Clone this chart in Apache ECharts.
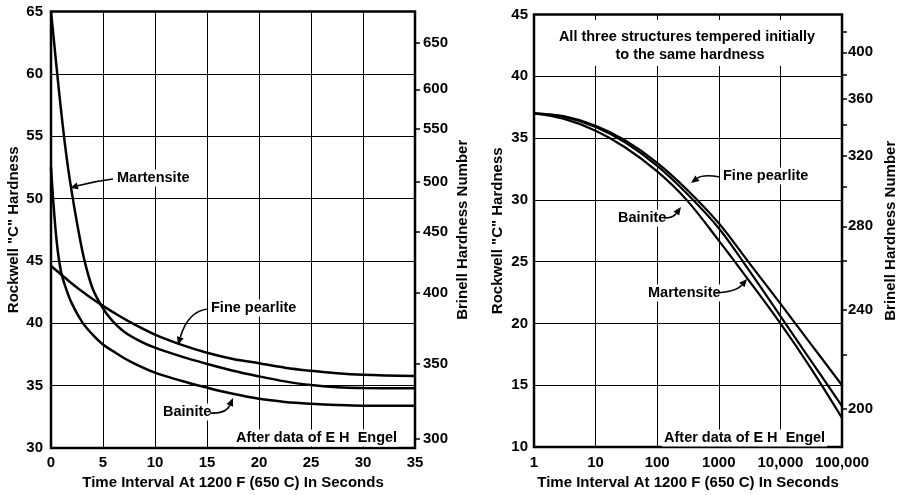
<!DOCTYPE html>
<html><head><meta charset="utf-8">
<script src="https://cdn.jsdelivr.net/npm/echarts@6/dist/echarts.min.js"></script>
<style>html,body{margin:0;padding:0;background:#fff}#c{width:900px;height:495px}</style>
</head><body><div id="c"></div>
<script>
// ---------- Left chart data (time in seconds, Rockwell C) ----------
const martT  = [0, 0.3, 0.6, 0.9, 1.25, 1.65, 2.1, 2.6, 3.2, 4.0, 5.0, 5.8, 7.0, 8.5, 10, 12.5, 15, 17.5, 20, 22.5, 25, 27.5, 30, 35];
const martR  = [65, 62.5, 60, 57.6, 55, 52.4, 50, 47.6, 45.1, 42.8, 41.2, 40.3, 39.35, 38.6, 38.05, 37.35, 36.75, 36.2, 35.75, 35.35, 35.05, 34.88, 34.82, 34.8];
const pearlT = [0, 1, 2, 3, 4, 5, 6, 7.5, 10, 12.5, 15, 17.5, 20, 22.5, 25, 27.5, 30, 35];
const pearlR = [44.6, 43.9, 43.2, 42.55, 41.95, 41.4, 40.88, 40.15, 39.1, 38.3, 37.65, 37.15, 36.8, 36.45, 36.2, 36.0, 35.88, 35.78];
const bainT  = [0, 0.2, 0.45, 0.7, 1.0, 1.4, 2.0, 3.0, 4.0, 5.0, 6.0, 7.5, 10, 12.5, 15, 17.5, 20, 22.5, 25, 27.5, 30, 35];
const bainR  = [52.5, 50, 47.4, 45.5, 44.0, 42.9, 41.6, 40.1, 39.1, 38.3, 37.75, 37.0, 36.05, 35.4, 34.85, 34.35, 33.95, 33.7, 33.55, 33.45, 33.4, 33.4];
// Brinell scale (left chart): labels and their Rockwell-C positions
const brinellL    = [650, 600, 550, 500, 450, 400, 350, 300];
const brinellLpos = [62.47, 58.76, 55.57, 51.36, 47.35, 42.45, 36.74, 30.78];

// ---------- Right chart data (log time, Rockwell C) ----------
const logTimes  = [1, 3, 10, 30, 100, 300, 1000, 3000, 10000, 30000, 100000];
const pearlLogR = [37.0, 36.77, 36.0, 34.82, 33.0, 30.86, 28.1, 25.0, 21.6, 18.45, 15.0];
const martLogR  = [37.0, 36.73, 35.9, 34.65, 32.75, 30.53, 27.7, 24.39, 20.6, 17.12, 13.3];
const bainLogR  = [37.0, 36.57, 35.6, 34.26, 32.3, 30.0, 26.7, 23.55, 20.0, 16.5, 12.35];
const brinellR      = [400, 360, 320, 280, 240, 200];
const brinellRpos   = [41.94, 38.16, 33.58, 27.86, 21.11, 13.06];
const brinellRminor = [43.63, 40.09, 36.07, 31.08, 25.05, 17.49];

const F = 'Liberation Sans, Arial, sans-serif';
const pairs = (a, b) => a.map((v, i) => [v, b[i]]);
const brinFmt = (pos, labs) => v => {
  for (let i = 0; i < pos.length; i++) if (Math.abs(pos[i] - v) < 1e-6) return String(labs[i]);
  return '';
};
const tickLabel = {color: '#000', fontFamily: F, fontWeight: 'bold', fontSize: 15};
const nameStyle = {color: '#000', fontFamily: F, fontWeight: 'bold', fontSize: 15};
const gridLine = {show: true, lineStyle: {color: '#000', width: 1}};

function lineSeries(data, xi, yi, w) {
  return {type: 'line', xAxisIndex: xi, yAxisIndex: yi, data: data, showSymbol: false,
    smooth: 0.35, lineStyle: {color: '#000', width: w}, silent: true, z: 2};
}

// annotation helpers
const AF = 'bold 14.5px ' + F;
function label(text, x, y, align) {
  return {type: 'text', x: x, y: y, z: 10,
    style: {text: text, font: AF, fill: '#000', align: align || 'left', verticalAlign: 'middle',
      backgroundColor: '#fff', padding: [1, 2]}};
}
function arrow(sx, sy, cx, cy, tx, ty) {
  const dx = tx - cx, dy = ty - cy, L = Math.hypot(dx, dy), ux = dx / L, uy = dy / L;
  const len = 8, hw = 3.5;
  const bx = tx - ux * len, by = ty - uy * len;
  return [
    {type: 'bezierCurve', z: 11, shape: {x1: sx, y1: sy, cpx1: cx, cpy1: cy, x2: bx, y2: by},
      style: {stroke: '#000', lineWidth: 1.6, fill: null}},
    {type: 'polygon', z: 11, shape: {points: [[tx, ty], [bx - uy * hw, by + ux * hw], [bx + uy * hw, by - ux * hw]]},
      style: {fill: '#000'}}
  ];
}

const graphics = [
  {type: 'rect', z: 3, shape: {x: 537, y: 20, width: 302, height: 46}, style: {fill: '#fff'}},
  label('Martensite', 115, 178),
  ...arrow(113, 179, 95, 181, 70, 188),
  label('Fine pearlite', 209, 308),
  ...arrow(208, 309, 188, 311, 178, 345),
  label('Bainite', 161, 412),
  ...arrow(210, 413, 226, 414, 233, 398),
  label('After data of E H  Engel', 234, 438),
  label('All three structures tempered initially', 687, 37, 'center'),
  label('to the same hardness', 690, 55, 'center'),
  label('Fine pearlite', 721, 176),
  ...arrow(720, 177, 703, 174, 691, 183),
  label('Bainite', 616, 218),
  ...arrow(664, 218, 673, 218, 681, 207),
  label('Martensite', 646, 293),
  ...arrow(716, 293, 736, 292, 747, 279),
  label('After data of E H  Engel', 662, 438)
];

const chart = echarts.init(document.getElementById('c'), null, {renderer: 'canvas'});
chart.setOption({
  animation: false,
  backgroundColor: '#fff',
  grid: [
    {left: 51, top: 11.5, width: 364, height: 440, show: true, borderColor: '#000', borderWidth: 2.5, backgroundColor: 'transparent'},
    {left: 534, top: 14.5, width: 308, height: 434.5, show: true, borderColor: '#000', borderWidth: 2.5, backgroundColor: 'transparent'}
  ],
  xAxis: [
    {gridIndex: 0, type: 'value', min: 0, max: 35, interval: 5,
      axisLine: {show: false}, axisTick: {show: false}, splitLine: gridLine,
      axisLabel: Object.assign({margin: 7}, tickLabel),
      name: 'Time Interval At 1200 F (650 C) In Seconds', nameLocation: 'middle', nameGap: 26, nameTextStyle: nameStyle},
    {gridIndex: 1, type: 'log', logBase: 10, min: 1, max: 100000,
      axisLine: {show: false}, axisTick: {show: false}, splitLine: gridLine, minorTick: {show: false},
      axisLabel: Object.assign({margin: 8, formatter: v => { const r = Math.round(v); return r >= 10000 ? r.toLocaleString('en-US') : String(r); }}, tickLabel),
      name: 'Time Interval At 1200 F (650 C) In Seconds', nameLocation: 'middle', nameGap: 28, nameTextStyle: nameStyle}
  ],
  yAxis: [
    {gridIndex: 0, type: 'value', min: 30, max: 65, interval: 5,
      axisLine: {show: false}, axisTick: {show: false}, splitLine: gridLine,
      axisLabel: Object.assign({margin: 8}, tickLabel),
      name: 'Rockwell "C" Hardness', nameLocation: 'middle', nameGap: 30, nameTextStyle: nameStyle},
    {gridIndex: 0, type: 'value', position: 'right', min: 30, max: 65,
      axisLine: {show: false}, splitLine: {show: false},
      axisTick: {show: true, length: 5, customValues: brinellLpos, lineStyle: {color: '#000', width: 1.5}},
      axisLabel: Object.assign({margin: 8, customValues: brinellLpos, formatter: brinFmt(brinellLpos, brinellL)}, tickLabel),
      name: 'Brinell Hardness Number', nameLocation: 'middle', nameGap: 40, nameTextStyle: nameStyle},
    {gridIndex: 1, type: 'value', min: 10, max: 45, interval: 5,
      axisLine: {show: false}, axisTick: {show: false}, splitLine: gridLine,
      axisLabel: Object.assign({margin: 6}, tickLabel),
      name: 'Rockwell "C" Hardness', nameLocation: 'middle', nameGap: 29, nameTextStyle: nameStyle},
    {gridIndex: 1, type: 'value', position: 'right', min: 10, max: 45,
      axisLine: {show: false}, splitLine: {show: false},
      axisTick: {show: true, length: 5, customValues: brinellRpos.concat(brinellRminor), lineStyle: {color: '#000', width: 1.5}},
      axisLabel: Object.assign({margin: 6, customValues: brinellRpos, formatter: brinFmt(brinellRpos, brinellR)}, tickLabel),
      name: 'Brinell Hardness Number', nameLocation: 'middle', nameGap: 41, nameTextStyle: nameStyle}
  ],
  series: [
    lineSeries(pairs(martT, martR), 0, 0, 2.5),
    lineSeries(pairs(pearlT, pearlR), 0, 0, 2.5),
    lineSeries(pairs(bainT, bainR), 0, 0, 2.5),
    lineSeries(pairs(logTimes, pearlLogR), 1, 2, 2.2),
    lineSeries(pairs(logTimes, martLogR), 1, 2, 2.2),
    lineSeries(pairs(logTimes, bainLogR), 1, 2, 2.2)
  ],
  graphic: graphics
});
</script>
</body></html>
